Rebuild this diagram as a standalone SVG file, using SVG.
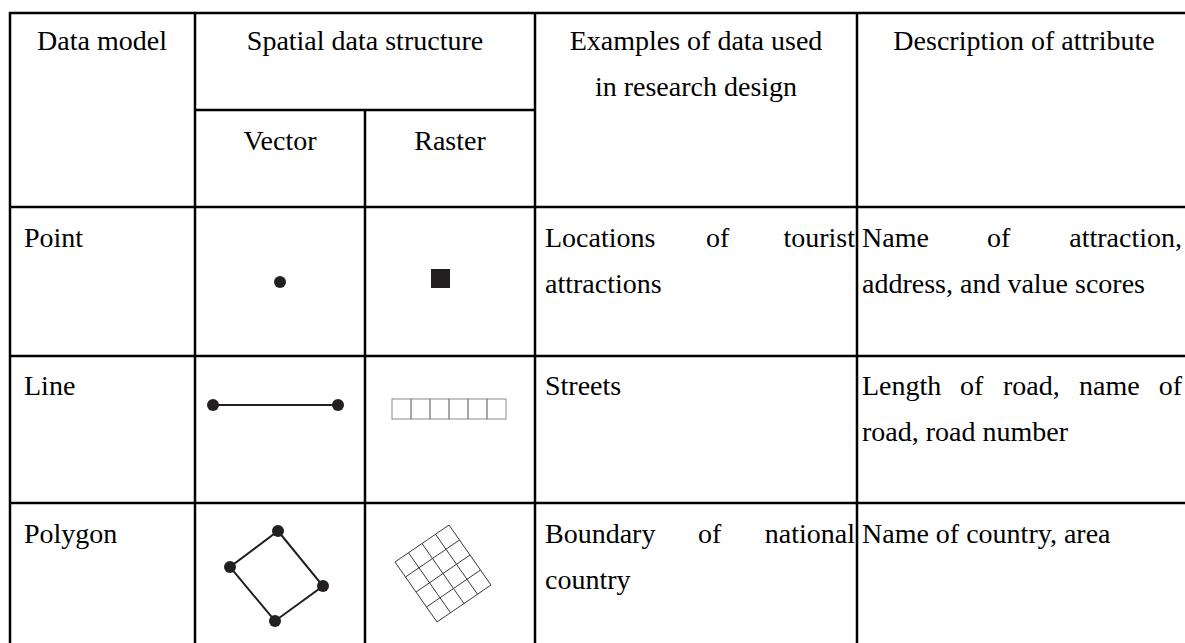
<svg xmlns="http://www.w3.org/2000/svg" width="1185" height="643" viewBox="0 0 1185 643">
  <style>
    .t { font-family: "Liberation Serif", "Times New Roman", serif; font-size: 28px; fill: #000; }
    .c { text-anchor: middle; }
    .e { text-anchor: end; }
    .rule { stroke: #000; stroke-width: 2.5; fill: none; }
    .ink { fill: #231f20; }
    .wire { stroke: #231f20; stroke-width: 2; fill: none; }
    .cell { stroke: #8a8a8a; stroke-width: 1; fill: none; }
    .grid { stroke: #3a3a3a; stroke-width: 1; fill: none; }
  </style>
  <rect width="1185" height="643" fill="#fff"/>

  <!-- table rules -->
  <g id="connectors">
    <line class="rule" x1="9" y1="13" x2="1185" y2="13"/>
    <line class="rule" x1="195" y1="110" x2="535" y2="110"/>
    <line class="rule" x1="9" y1="207" x2="1185" y2="207"/>
    <line class="rule" x1="9" y1="356" x2="1185" y2="356"/>
    <line class="rule" x1="9" y1="503" x2="1185" y2="503"/>
    <line class="rule" x1="10" y1="12" x2="10" y2="643"/>
    <line class="rule" x1="195" y1="12" x2="195" y2="643"/>
    <line class="rule" x1="365" y1="110" x2="365" y2="643"/>
    <line class="rule" x1="535" y1="12" x2="535" y2="643"/>
    <line class="rule" x1="857" y1="12" x2="857" y2="643"/>
  </g>

  <!-- header cells -->
  <g id="head-model"><text class="t c" x="102" y="50">Data model</text></g>
  <g id="head-structure"><text class="t c" x="365" y="50">Spatial data structure</text></g>
  <g id="head-vector"><text class="t c" x="280" y="150">Vector</text></g>
  <g id="head-raster"><text class="t c" x="450" y="150">Raster</text></g>
  <g id="head-examples">
    <text class="t c" x="696" y="50">Examples of data used</text>
    <text class="t c" x="696" y="96">in research design</text>
  </g>
  <g id="head-description"><text class="t c" x="1024" y="50">Description of attribute</text></g>

  <!-- point row -->
  <g id="point-model"><text class="t" x="24" y="247">Point</text></g>
  <g id="point-vector"><circle class="ink" cx="280" cy="282" r="6"/></g>
  <g id="point-raster"><rect class="ink" x="431" y="269" width="19" height="19"/></g>
  <g id="point-example">
    <text class="t" x="545" y="247">Locations</text>
    <text class="t" x="706" y="247">of</text>
    <text class="t e" x="855" y="247">tourist</text>
    <text class="t" x="545" y="293">attractions</text>
  </g>
  <g id="point-attribute">
    <text class="t" x="862" y="247">Name</text>
    <text class="t" x="987" y="247">of</text>
    <text class="t e" x="1182" y="247">attraction,</text>
    <text class="t" x="862" y="293">address, and value scores</text>
  </g>

  <!-- line row -->
  <g id="line-model"><text class="t" x="24" y="395">Line</text></g>
  <g id="line-vector">
    <line class="wire" x1="213" y1="405" x2="338" y2="405"/>
    <circle class="ink" cx="213" cy="405" r="6"/>
    <circle class="ink" cx="338" cy="405" r="6"/>
  </g>
  <g id="line-raster">
    <rect class="cell" x="392" y="399" width="19" height="20"/>
    <rect class="cell" x="411" y="399" width="19" height="20"/>
    <rect class="cell" x="430" y="399" width="19" height="20"/>
    <rect class="cell" x="449" y="399" width="19" height="20"/>
    <rect class="cell" x="468" y="399" width="19" height="20"/>
    <rect class="cell" x="487" y="399" width="19" height="20"/>
  </g>
  <g id="line-example"><text class="t" x="545" y="395">Streets</text></g>
  <g id="line-attribute">
    <text class="t" x="862" y="395">Length</text>
    <text class="t" x="960" y="395">of</text>
    <text class="t" x="1003" y="395">road,</text>
    <text class="t" x="1079" y="395">name</text>
    <text class="t e" x="1182" y="395">of</text>
    <text class="t" x="862" y="441">road, road number</text>
  </g>

  <!-- polygon row -->
  <g id="polygon-model"><text class="t" x="24" y="543">Polygon</text></g>
  <g id="polygon-vector">
    <polygon class="wire" points="278,531 323,586 275,621 230,567"/>
    <circle class="ink" cx="278" cy="531" r="6"/>
    <circle class="ink" cx="323" cy="586" r="6"/>
    <circle class="ink" cx="275" cy="621" r="6"/>
    <circle class="ink" cx="230" cy="567" r="6"/>
  </g>
  <g id="polygon-raster">
    <path class="grid" d="M395,562 L437,622 M408.5,552.75 L450.5,612.75 M422,543.5 L464,603.5 M435.5,534.25 L477.5,594.25 M449,525 L491,585
             M395,562 L449,525 M405.5,577 L459.5,540 M416,592 L470,555 M426.5,607 L480.5,570 M437,622 L491,585"/>
  </g>
  <g id="polygon-example">
    <text class="t" x="545" y="543">Boundary</text>
    <text class="t" x="698" y="543">of</text>
    <text class="t e" x="855" y="543">national</text>
    <text class="t" x="545" y="589">country</text>
  </g>
  <g id="polygon-attribute"><text class="t" x="862" y="543">Name of country, area</text></g>
</svg>
